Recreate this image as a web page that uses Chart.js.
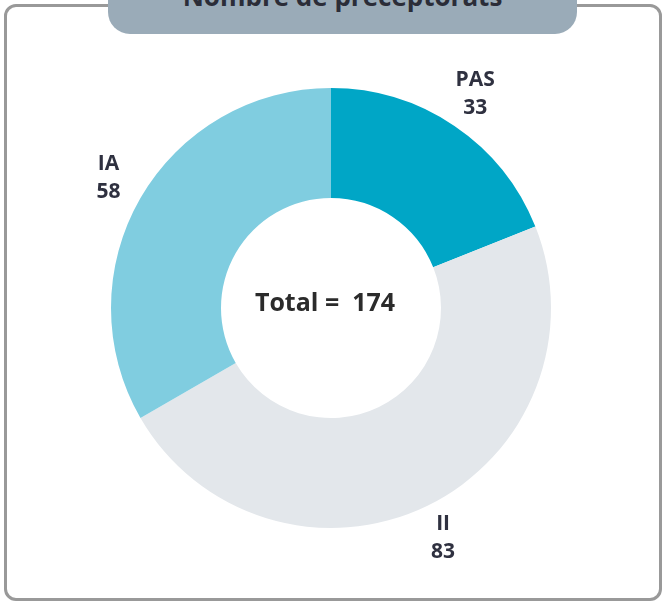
<!DOCTYPE html>
<html lang="fr">
<head>
<meta charset="utf-8">
<script src="https://cdn.jsdelivr.net/npm/chart.js@4/dist/chart.umd.min.js"></script>
<style>
  html, body { margin: 0; padding: 0; background: #fff; }
  body { width: 665px; height: 603px; position: relative; overflow: hidden;
         font-family: "Open Sans", sans-serif; }
  .frame { position: absolute; left: 4px; top: 4px; width: 652px; height: 591px;
           border: 3px solid #999; border-radius: 12px; }
  .tab { position: absolute; left: 108px; top: -30px; width: 469px; height: 64px;
         background: #9aabb8; border-radius: 22px; overflow: hidden; }
  .tab span { position: absolute; left: 0; right: 0; bottom: 25px; text-align: center;
              font-weight: 700; font-size: 26px; line-height: 26px; color: #2b2d38; }
  #chart { position: absolute; left: 0; top: 0; }
</style>
</head>
<body>
<div class="frame"></div>
<div class="tab"><span>Nombre de préceptorats</span></div>
<canvas id="chart" width="665" height="603"></canvas>
<script>
// ── Data ───────────────────────────────────────
const categories = ['PAS', 'II', 'IA'];
const counts     = [33, 83, 58];
const colors     = ['#00a6c6', '#e3e7eb', '#80cde0'];

const total = counts.reduce((s, v) => s + v, 0);

// ── Labels outside slices + total in the hole ──
const labelPlugin = {
  id: 'sliceLabels',
  afterDatasetsDraw(chart) {
    const ctx  = chart.ctx;
    const arcs = chart.getDatasetMeta(0).data;
    ctx.save();
    ctx.fillStyle = '#2f3140';
    ctx.textAlign = 'center';
    ctx.textBaseline = 'middle';
    ctx.font = 'bold 21px "Open Sans"';
    arcs.forEach((arc, i) => {
      const mid = (arc.startAngle + arc.endAngle) / 2;
      const r   = arc.outerRadius + 37;
      const x   = arc.x + Math.cos(mid) * r;
      const y   = arc.y + Math.sin(mid) * r;
      ctx.fillText(categories[i], x, y - 15);
      ctx.fillText(String(counts[i]), x, y + 13);
    });
    const a = arcs[0];
    ctx.fillStyle = '#2b2b2b';
    ctx.font = 'bold 25px "Open Sans"';
    ctx.fillText('Total =  ' + total, a.x - 6, a.y - 4);
    ctx.restore();
  }
};

new Chart(document.getElementById('chart'), {
  type: 'doughnut',
  data: {
    labels: categories,
    datasets: [{
      data: counts,
      backgroundColor: colors,
      borderWidth: 0,
    }]
  },
  options: {
    responsive: false,
    animation: false,
    cutout: '50%',
    layout: { padding: { left: 111, right: 114, top: 88, bottom: 75 } },
    plugins: { legend: { display: false }, tooltip: { enabled: false } }
  },
  plugins: [labelPlugin]
});
</script>
</body>
</html>
